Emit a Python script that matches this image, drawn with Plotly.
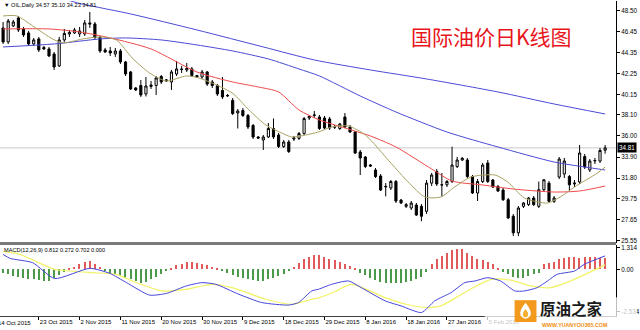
import plotly.graph_objects as go

# ---------------- data ----------------
opens = [46.8, 45.4, 47.0, 47.8, 46.7, 46.3, 45.2, 45.7, 44.85, 44.7,
         44.2, 43.0, 45.6, 46.2, 46.3, 46.2, 46.2, 47.3, 47.2, 45.85,
         44.6, 44.5, 44.2, 44.5, 43.4, 42.4, 40.8, 41.05, 40.2, 40.95,
         41.05, 41.95, 41.5, 41.4, 42.2, 42.7, 42.6, 42.7, 42.05, 41.9,
         42.4, 41.4, 41.05, 40.55, 40.0, 39.56, 38.3, 38.55, 38.05, 37.05,
         35.9, 35.6, 35.9, 36.75, 36.1, 34.95, 35.4, 35.7, 35.76, 36.25,
         37.8, 38.05, 37.9, 37.8, 37.7, 36.9, 36.75, 37.9, 36.9, 36.4,
         34.4, 33.9, 33.1, 32.6, 32.0, 30.9, 30.8, 31.45, 29.6, 28.97,
         28.8, 29.1, 28.97, 28.47, 31.29, 32.45, 31.1, 31.12, 31.45, 32.94,
         33.6, 33.6, 31.95, 30.3, 31.45, 33.3, 31.6, 30.96, 30.6, 29.63,
         27.98, 26.32, 28.97, 29.14, 29.8, 28.97, 30.63, 31.29, 29.47, 31.9,
         32.2, 31.95, 31.2, 31.4, 33.95, 32.6, 33.5, 33.5, 34.57]
highs = [47.4, 47.7, 47.6, 48.0, 46.9, 46.5, 45.8, 45.9, 45.0, 44.9,
         44.4, 45.9, 46.7, 46.6, 46.8, 46.9, 47.6, 48.4, 47.4, 46.0,
         44.8, 44.9, 44.8, 44.7, 43.5, 42.5, 40.9, 41.6, 41.9, 41.5,
         42.0, 42.1, 41.7, 42.6, 43.5, 43.0, 43.3, 42.9, 42.1, 42.6,
         42.5, 41.6, 41.2, 41.9, 40.2, 39.8, 38.7, 38.8, 38.2, 37.2,
         36.0, 36.1, 37.3, 37.75, 36.3, 35.6, 35.6, 36.0, 36.4, 37.9,
         38.1, 38.5, 38.1, 38.0, 37.9, 37.1, 37.3, 38.3, 37.1, 36.5,
         34.6, 34.0, 33.2, 32.8, 32.2, 31.3, 31.6, 31.6, 29.7, 29.3,
         29.5, 29.3, 29.2, 31.6, 32.3, 32.7, 32.3, 31.6, 34.93, 33.9,
         33.9, 33.8, 32.1, 31.7, 33.3, 33.6, 31.7, 31.1, 30.8, 29.8,
         28.2, 29.0, 29.4, 29.9, 30.0, 31.45, 31.7, 31.5, 30.0, 33.9,
         33.8, 32.1, 31.6, 35.1, 34.2, 33.7, 33.8, 34.8, 35.10]
lows = [45.2, 45.2, 46.9, 46.4, 45.9, 45.0, 45.0, 44.4, 44.6, 43.9,
        42.6, 42.9, 45.4, 45.9, 46.2, 45.9, 46.0, 46.8, 45.6, 44.3,
        44.3, 44.0, 43.9, 43.2, 42.0, 40.6, 40.5, 39.9, 39.95, 40.7,
        40.1, 41.2, 41.4, 40.6, 42.0, 42.3, 42.4, 41.9, 41.8, 41.7,
        41.0, 40.8, 40.0, 39.7, 39.9, 38.1, 36.75, 37.9, 36.7, 35.7,
        35.7, 34.6, 35.8, 35.7, 34.8, 34.8, 34.3, 35.5, 35.6, 36.1,
        37.6, 37.8, 36.6, 36.7, 36.6, 36.7, 36.6, 36.8, 36.3, 34.2,
        32.1, 32.8, 32.9, 31.8, 30.5, 29.96, 30.6, 29.3, 29.2, 28.8,
        28.6, 28.0, 27.48, 28.2, 31.0, 31.0, 29.96, 30.9, 31.3, 32.8,
        33.5, 31.8, 30.2, 29.5, 31.3, 31.3, 30.8, 30.4, 29.5, 27.7,
        26.0, 25.99, 28.8, 29.0, 29.0, 28.8, 30.4, 29.3, 29.3, 31.7,
        31.8, 30.46, 30.9, 31.2, 32.7, 32.4, 33.2, 33.3, 34.23]
closes = [45.4, 47.5, 47.4, 46.6, 46.1, 45.2, 45.6, 44.6, 44.7, 44.0,
          42.9, 45.6, 46.25, 46.35, 46.6, 46.5, 47.3, 47.2, 45.85, 44.5,
          44.4, 44.3, 44.5, 43.4, 42.2, 40.7, 40.6, 40.1, 41.0, 41.1,
          41.8, 41.4, 41.6, 42.4, 42.7, 42.65, 42.75, 42.05, 41.9, 42.4,
          41.2, 41.05, 40.2, 39.9, 40.05, 38.24, 38.5, 38.05, 36.9, 35.9,
          35.8, 35.9, 36.75, 35.9, 34.95, 35.4, 34.45, 35.8, 36.25, 37.74,
          37.95, 38.1, 36.75, 36.8, 36.8, 36.9, 37.2, 36.9, 36.4, 34.3,
          33.8, 32.95, 33.0, 31.95, 30.6, 30.96, 31.45, 29.5, 29.3, 29.14,
          29.3, 28.1, 27.98, 31.29, 32.1, 31.2, 31.12, 31.45, 33.1, 33.6,
          33.77, 31.95, 30.3, 31.45, 33.1, 31.45, 30.9, 30.5, 29.63, 27.81,
          26.32, 28.8, 29.3, 29.8, 29.14, 30.63, 31.62, 29.47, 29.8, 33.7,
          33.5, 31.12, 31.29, 34.3, 32.9, 33.5, 33.55, 34.55, 34.81]

# moving averages (bar index, price)
ma_fast_idx = [0, 2.7, 5.8, 9.7, 11.7, 15.6, 18.9, 22.2, 25.3, 28.7, 32, 35.9, 38.4, 44.9, 48.2,
               51.5, 54.6, 56.6, 59.3, 61.8, 64.4, 67.7, 71, 76, 79.4, 82.7, 85.8, 88.5, 91.7,
               96.4, 98.9, 102.2, 106.7, 109.2, 112, 116.5, 118]
ma_fast_val = [48.0, 48.0, 47.0, 45.7, 45.3, 45.7, 45.9, 45.6, 43.8, 42.3, 41.5, 42.0, 41.8, 40.3, 38.6,
               37.1, 36.3, 35.9, 36.1, 36.4, 36.9, 37.0, 36.1, 33.3, 31.4, 29.9, 29.9, 30.9, 31.9,
               32.1, 31.4, 29.8, 29.3, 29.9, 30.9, 32.3, 32.9]
ma_mid_idx = [0, 9, 15, 21, 29, 38, 45, 50, 54, 58, 62, 67, 72, 77, 84, 88, 94, 100, 108, 113, 118]
ma_mid_val = [46.7, 46.7, 46.4, 45.8, 44.7, 42.4, 41.4, 40.9, 40.4, 38.6, 37.6, 36.8, 36.0, 34.9,
              32.7, 31.5, 31.1, 30.7, 30.4, 30.5, 31.0]
ma_slow_idx = [0, 10, 19, 24, 31, 38, 45, 52, 58, 62, 70, 77, 87, 97, 108, 114, 118]
ma_slow_val = [44.9, 45.2, 45.7, 45.8, 45.6, 45.1, 44.5, 43.7, 42.7, 42.0, 40.0, 38.4, 36.4, 34.9,
               33.4, 32.9, 32.6]
ma_slowest_idx = [12, 14.6, 25, 38, 51, 61, 72, 83, 97, 108, 118]
ma_slowest_val = [49.7, 49.3, 48.2, 46.6, 44.9, 43.6, 42.6, 41.7, 40.4, 39.2, 38.2]

# MACD histogram, one value per bar
hist = [-0.2, -0.3, -0.4, -0.45, -0.5, -0.6, -0.6, -0.65, -0.7, -0.7, -0.55,
        -0.35, -0.15, 0.05, 0.15, 0.3, 0.45, 0.5, 0.35, 0.15, -0.1,
        -0.2, -0.3, -0.4, -0.5, -0.6, -0.7, -0.8, -0.75, -0.6, -0.45,
        -0.25, -0.1, 0.1, 0.25, 0.35, 0.45, 0.45, 0.4, 0.35, 0.25,
        0.15, 0.05, -0.1, -0.2, -0.35, -0.45, -0.5, -0.6, -0.65, -0.7,
        -0.7, -0.6, -0.5, -0.4, -0.25, -0.1, 0.15, 0.4, 0.6, 0.75,
        0.85, 0.85, 0.75, 0.65, 0.55, 0.45, 0.35, 0.2, 0.03, -0.2,
        -0.35, -0.5, -0.65, -0.75, -0.8, -0.85, -0.85, -0.8, -0.75, -0.7,
        -0.6, -0.45, -0.15, 0.35, 0.6, 0.8, 1.0, 1.15, 1.25, 1.2,
        1.0, 0.8, 0.65, 0.55, 0.45, 0.3, 0.1, -0.15, -0.3, -0.45,
        -0.55, -0.5, -0.4, -0.3, -0.2, 0.3, 0.4, 0.45, 0.6, 0.7,
        0.72, 0.72, 0.7, 0.72, 0.72, 0.72, 0.7, 0.70]
macd_main_idx = [0, 1.4, 5.8, 10.1, 17, 20.9, 24.2, 28.7, 32, 35.9, 39, 41.7, 46.2, 50.7, 56, 57.9,
                 60.5, 61.8, 64.4, 67.7, 70.2, 74.9, 78, 82, 84.6, 87.8, 90.5, 92.5, 95, 97.5,
                 100.3, 102.2, 104.7, 106.7, 108.6, 112, 113.9, 118]
macd_main_val = [0.9, 0.66, 0.4, -0.55, 0.06, -0.24, -0.8, -1.55, -1.45, -1.0, -0.8, -0.9, -1.5, -2.0,
                 -2.15, -2.0, -1.3, -1.2, -0.9, -0.7, -1.1, -1.9, -2.2, -2.6, -1.9, -1.4, -0.8, -0.7,
                 -0.5, -0.7, -1.3, -1.3, -1.1, -0.7, -0.3, -0.1, 0.3, 0.812]
macd_signal_idx = [0, 3.3, 10.1, 13.1, 17.5, 22.2, 25.3, 31.2, 35.9, 41, 44.9, 51.5, 56.6, 60.5, 62,
                   65, 68.3, 74.9, 79, 83.3, 85.8, 91, 95.6, 99.5, 103.4, 107.3, 111.2, 118]
macd_signal_val = [1.08, 0.9, 0.0, -0.1, -0.2, -0.3, -0.7, -1.3, -1.2, -0.9, -1.1, -1.8, -2.1, -1.8,
                   -1.7, -1.35, -0.9, -1.7, -2.1, -2.3, -2.2, -1.3, -0.6, -0.65, -1.0, -1.1, -0.7, 0.272]

price_ticks = [48.50, 46.45, 44.35, 42.25, 40.15, 38.10, 36.00, 33.90, 31.80, 29.75, 27.65, 25.55]
macd_ticks = [1.314, 0.0, -2.534]
macd_tick_text = ["1.314", "0.00", "-2.534"]
date_tick_idx = [7, 15, 23, 31, 39, 47, 55, 63, 71, 79, 87, 95]
date_tick_text = ["23 Oct 2015", "2 Nov 2015", "11 Nov 2015", "20 Nov 2015", "30 Nov 2015",
                  "9 Dec 2015", "18 Dec 2015", "29 Dec 2015", "8 Jan 2016", "18 Jan 2016",
                  "27 Jan 2016", "5 Feb 2016"]
first_date_idx = -1
first_date_text = "14 Oct 2015"
last_price = 34.81
header_text = "▼ OIL,Daily 34.57 35.10 34.23 34.81"
macd_text = "MACD(12,26,9) 0.812 0.272 0.702 0.000"
title_text = "国际油价日K线图"

# ---------------- layout geometry ----------------
W, H = 640, 330
PLOT_RIGHT = 619
BAR_PX = 5.126
FIRST_BAR_PX = 3.1
X0 = -FIRST_BAR_PX / BAR_PX
X1 = X0 + PLOT_RIGHT / BAR_PX
MAIN_BOTTOM = 243
MACD_TOP, MACD_BOTTOM = 245.5, 317
FONT = "Liberation Sans, Arial, sans-serif"


def pyp(p):
    return 1 - p / H


def pxp(p):
    return p / W


def idx_to_paper(i):
    return pxp((i - X0) / (X1 - X0) * PLOT_RIGHT)


idx = list(range(len(opens)))
fig = go.Figure()

fig.add_trace(go.Candlestick(
    x=idx, open=opens, high=highs, low=lows, close=closes,
    increasing=dict(line=dict(color="black", width=1), fillcolor="white"),
    decreasing=dict(line=dict(color="black", width=1), fillcolor="black"),
    whiskerwidth=0, xaxis="x", yaxis="y", hoverinfo="skip"))

for xs, ys, col in [(ma_slowest_idx, ma_slowest_val, "#4a4ad6"),
                    (ma_slow_idx, ma_slow_val, "#4a4ad6"),
                    (ma_mid_idx, ma_mid_val, "#f04a4a"),
                    (ma_fast_idx, ma_fast_val, "#a9a062")]:
    fig.add_trace(go.Scatter(x=xs, y=ys, mode="lines", xaxis="x", yaxis="y",
                             line=dict(color=col, width=1, shape="spline", smoothing=0.7),
                             hoverinfo="skip"))

fig.add_trace(go.Bar(x=idx, y=hist, width=0.25, xaxis="x2", yaxis="y2",
                     marker=dict(color=["#e05a5a" if v >= 0 else "#4a9a4a" for v in hist],
                                 line=dict(width=0)), hoverinfo="skip"))
fig.add_trace(go.Scatter(x=macd_signal_idx, y=macd_signal_val, mode="lines", xaxis="x2", yaxis="y2",
                         line=dict(color="#f2f266", width=1.2, shape="spline", smoothing=0.7),
                         hoverinfo="skip"))
fig.add_trace(go.Scatter(x=macd_main_idx, y=macd_main_val, mode="lines", xaxis="x2", yaxis="y2",
                         line=dict(color="#4646dc", width=1, shape="spline", smoothing=0.6),
                         hoverinfo="skip"))

axis_common = dict(showgrid=False, zeroline=False)
fig.update_layout(
    width=W, height=H, margin=dict(l=0, r=0, t=0, b=0),
    paper_bgcolor="white", plot_bgcolor="white", showlegend=False,
    boxgap=0.4, bargap=0,
    font=dict(family=FONT, size=6, color="black"),
    xaxis=dict(domain=[0, pxp(PLOT_RIGHT)], range=[X0, X1], anchor="y",
               showticklabels=False, ticks="", showline=False,
               rangeslider=dict(visible=False), **axis_common),
    xaxis2=dict(domain=[0, pxp(PLOT_RIGHT)], range=[X0, X1], anchor="y2",
                tickmode="array", tickvals=date_tick_idx, ticktext=date_tick_text,
                ticks="outside", ticklen=3, tickcolor="black", ticklabelposition="outside right",
                tickangle=0, tickfont=dict(size=6, family=FONT), showline=True, linecolor="#404040",
                linewidth=1, **axis_common),
    yaxis=dict(domain=[pyp(MAIN_BOTTOM), 1], range=[25.35, 49.494], side="right", anchor="x",
               tickmode="array", tickvals=price_ticks, ticktext=[f"{v:.2f}" for v in price_ticks],
               ticks="outside", ticklen=3, tickcolor="black", showline=True, linecolor="black",
               linewidth=1, tickfont=dict(size=6.3, family=FONT), **axis_common),
    yaxis2=dict(domain=[pyp(MACD_BOTTOM), pyp(MACD_TOP)], range=[-2.814, 1.467], side="right",
                anchor="x2", tickmode="array", tickvals=macd_ticks, ticktext=macd_tick_text,
                ticks="outside", ticklen=3, tickcolor="black", showline=True, linecolor="black",
                linewidth=1, tickfont=dict(size=6.3, family=FONT), **axis_common),
)


def pt(x, y):
    return f"{pxp(x):.5f},{pyp(y):.5f}"


shapes = [
    dict(type="line", xref="x", yref="y", x0=X0, x1=X1, y0=last_price, y1=last_price,
         line=dict(color="#c8c8c8", width=1), layer="below"),
    dict(type="rect", xref="paper", yref="paper", x0=0, x1=pxp(PLOT_RIGHT),
         y0=pyp(MACD_TOP), y1=pyp(MAIN_BOTTOM - 0.5), fillcolor="#7a7a7a", line=dict(width=0)),
    # watermark
    dict(type="rect", xref="paper", yref="paper", x0=pxp(487), x1=1, y0=0, y1=pyp(298),
         fillcolor="white", opacity=0.75, line=dict(width=0), layer="above"),
    dict(type="rect", xref="paper", yref="paper", x0=pxp(517), x1=pxp(539), y0=pyp(323),
         y1=pyp(301), fillcolor="#f39a1c", line=dict(width=0), layer="above"),
    dict(type="path", xref="paper", yref="paper",
         path=f"M {pt(528, 303.5)} Q {pt(535, 312)} {pt(533, 316.5)} Q {pt(528, 323)} {pt(523, 316.5)} "
              f"Q {pt(521, 312)} {pt(528, 303.5)} Z",
         fillcolor="white", line=dict(width=0), layer="above"),
    dict(type="path", xref="paper", yref="paper",
         path=f"M {pt(528, 310)} Q {pt(531.5, 314)} {pt(530.5, 317)} Q {pt(528, 320)} {pt(525.5, 317)} "
              f"Q {pt(524.5, 314)} {pt(528, 310)} Z",
         fillcolor="#f5b030", line=dict(width=0), layer="above"),
]
fig.update_layout(shapes=shapes)

annotations = [
    dict(text=header_text, xref="paper", yref="paper", x=pxp(2), y=pyp(4.5), xanchor="left",
         yanchor="middle", showarrow=False, font=dict(size=5.6, family=FONT, color="black")),
    dict(text=macd_text, xref="paper", yref="paper", x=pxp(2), y=pyp(250.5), xanchor="left",
         yanchor="middle", showarrow=False, font=dict(size=5.6, family=FONT, color="black")),
    dict(text=title_text, xref="paper", yref="paper", x=pxp(494), y=pyp(35), xanchor="center",
         yanchor="middle", showarrow=False,
         font=dict(size=21, family="Noto Sans CJK SC", color="#e8141c")),
    dict(text=first_date_text, xref="paper", yref="paper", x=idx_to_paper(first_date_idx) - pxp(2),
         y=pyp(324), xanchor="left", yanchor="middle", showarrow=False,
         font=dict(size=6, family=FONT, color="black")),
    dict(text=f"{last_price:.2f}", xref="paper", yref="y", x=pxp(PLOT_RIGHT + 1), y=last_price,
         xanchor="left", yanchor="middle", showarrow=False, bgcolor="black", borderpad=1,
         font=dict(size=6.3, family=FONT, color="white")),
    dict(text="<b>原油之家</b>", xref="paper", yref="paper", x=pxp(541), y=pyp(308.5),
         xanchor="left", yanchor="middle", showarrow=False,
         font=dict(size=15.5, family="Noto Sans CJK SC", color="#1a1a1a")),
    dict(text="<b>WWW.YUANYOU365.COM</b>", xref="paper", yref="paper", x=pxp(543), y=pyp(325.5),
         xanchor="left", yanchor="middle", showarrow=False,
         font=dict(size=5.3, family=FONT, color="#f08c10")),
]
fig.update_layout(annotations=annotations)

fig.write_html("out.html")
